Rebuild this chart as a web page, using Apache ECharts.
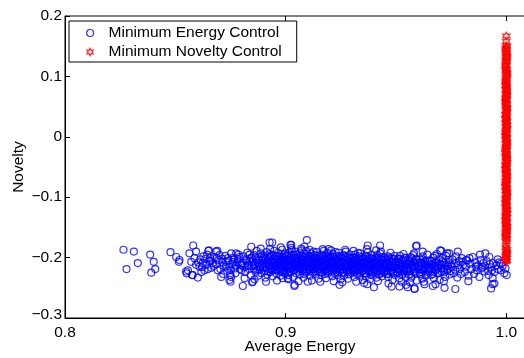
<!DOCTYPE html>
<html>
<head>
<meta charset="utf-8">
<script src="https://cdn.jsdelivr.net/npm/echarts@6/dist/echarts.min.js"></script>
<style>
html,body{margin:0;padding:0;background:#fff;overflow:hidden;}
#chart{width:524px;height:358px;}
</style>
</head>
<body>
<div id="chart"></div>
<script>
// ---- data ----
const seriesNames = ['Minimum Energy Control', 'Minimum Novelty Control'];
const xTickValues = [0.8, 0.9, 1.0];
const xTickLabels = ['0.8', '0.9', '1.0'];
const yTickValues = [-0.3, -0.2, -0.1, 0, 0.1, 0.2];
const yTickLabels = ['\u22120.3', '\u22120.2', '\u22120.1', '0', '0.1', '0.2'];

// [average energy, novelty]
const minEnergyPoints = [
[0.8265,-0.187],[0.8279,-0.219],[0.8312,-0.190],[0.8330,-0.209],[0.8386,-0.195],[0.8402,-0.207],[0.8409,-0.219],[0.8391,-0.225],
[0.8478,-0.191],[0.8504,-0.199],[0.8519,-0.204],[0.8516,-0.207],[0.8551,-0.226],[0.8557,-0.221],[0.8564,-0.193],[0.8581,-0.180],
[0.8579,-0.229],[0.8602,-0.233],[0.8572,-0.207],[0.8587,-0.201],[0.8594,-0.212],[0.8609,-0.215],[0.8624,-0.209],[0.8632,-0.221],
[0.8650,-0.189],[0.8658,-0.201],[0.8670,-0.209],[0.8685,-0.190],[0.8700,-0.196],[0.8692,-0.221],[0.8708,-0.232],[0.8730,-0.207],
[0.8745,-0.215],[0.8753,-0.193],[0.8745,-0.237],[0.8753,-0.232],[0.8776,-0.193],[0.8791,-0.199],[0.8806,-0.247],[0.8844,-0.182],
[0.8851,-0.240],[0.8927,-0.175],[0.8939,-0.175],[0.8911,-0.240],[0.9025,-0.179],[0.9040,-0.245],[0.8594,-0.190],[0.8652,-0.188],
[0.8690,-0.189],[0.8750,-0.240],[0.8848,-0.241],[0.8987,-0.234],[0.8549,-0.223],[0.8576,-0.229],
[0.9096,-0.171],[0.9085,-0.182],[0.9022,-0.179],[0.9195,-0.186],[0.9372,-0.180],[0.9428,-0.180],[0.9410,-0.188],[0.9040,-0.247],
[0.9010,-0.234],[0.9244,-0.245],[0.9400,-0.249],[0.9480,-0.248],[0.9516,-0.248],[0.9100,-0.240],[0.9370,-0.244],
[0.9594,-0.180],[0.9621,-0.190],[0.9700,-0.188],[0.9732,-0.193],[0.9780,-0.190],[0.9881,-0.195],[0.9905,-0.193],[0.9923,-0.199],
[0.9961,-0.203],[0.9584,-0.251],[0.9546,-0.245],[0.9629,-0.244],[0.9720,-0.250],[0.9769,-0.252],[0.9667,-0.247],[0.9679,-0.244],
[0.9828,-0.239],[0.9931,-0.251],[0.9938,-0.244],[0.9946,-0.243],[0.9920,-0.229],[0.9938,-0.234],[0.9935,-0.221],[0.9976,-0.210],
[0.9996,-0.218],[1.0002,-0.229],[0.9991,-0.226],[0.9863,-0.215],[0.9886,-0.218],[0.9901,-0.223],[0.9833,-0.201],[0.9818,-0.204],
[0.9802,-0.207],[0.9591,-0.181],[0.9705,-0.189],[0.9584,-0.252],[0.9553,-0.249],
[0.8613,-0.203],[0.8627,-0.198],[0.8641,-0.212],[0.8655,-0.206],[0.8663,-0.217],[0.8618,-0.224],[0.8677,-0.199],[0.8683,-0.211],
[0.8696,-0.204],[0.8644,-0.195],
[0.8712,-0.202],[0.8719,-0.214],[0.8726,-0.197],[0.8735,-0.222],[0.8741,-0.205],[0.8758,-0.211],[0.8763,-0.200],[0.8769,-0.218],
[0.8772,-0.226],[0.8781,-0.207],[0.8786,-0.195],[0.8795,-0.213],[0.8717,-0.227],[0.8749,-0.229],[0.8766,-0.203],[0.8799,-0.221],
[0.8803,-0.209],[0.8808,-0.198],[0.8812,-0.216],[0.8817,-0.224],[0.8821,-0.203],[0.8826,-0.192],[0.8829,-0.212],[0.8834,-0.219],
[0.8838,-0.206],[0.8842,-0.229],[0.8845,-0.200],[0.8847,-0.214],[0.8814,-0.234],[0.8836,-0.195],
[0.8852,-0.207],[0.8855,-0.218],[0.8858,-0.196],[0.8861,-0.211],[0.8864,-0.224],[0.8866,-0.203],[0.8869,-0.189],[0.8872,-0.215],
[0.8875,-0.230],[0.8877,-0.208],[0.8880,-0.199],[0.8883,-0.220],[0.8885,-0.212],[0.8888,-0.193],[0.8891,-0.226],[0.8894,-0.205],
[0.8896,-0.217],[0.8898,-0.201],[0.8859,-0.236],[0.8887,-0.185],
[0.8902,-0.210],[0.8904,-0.197],[0.8906,-0.222],[0.8909,-0.204],[0.8912,-0.215],[0.8914,-0.191],[0.8917,-0.228],[0.8919,-0.208],
[0.8922,-0.200],[0.8924,-0.219],[0.8927,-0.212],[0.8929,-0.186],[0.8931,-0.224],[0.8934,-0.206],[0.8936,-0.196],[0.8938,-0.217],
[0.8941,-0.231],[0.8943,-0.210],[0.8945,-0.202],[0.8947,-0.214],[0.8908,-0.233],[0.8926,-0.194],[0.8939,-0.221],[0.8948,-0.189],
[0.8951,-0.207],[0.8953,-0.219],[0.8955,-0.198],[0.8957,-0.226],[0.8959,-0.211],[0.8962,-0.203],[0.8964,-0.215],[0.8966,-0.192],
[0.8968,-0.222],[0.8971,-0.209],[0.8973,-0.199],[0.8975,-0.218],[0.8977,-0.230],[0.8979,-0.205],[0.8982,-0.213],[0.8984,-0.187],
[0.8986,-0.224],[0.8988,-0.201],[0.8991,-0.216],[0.8993,-0.208],[0.8995,-0.195],[0.8997,-0.227],[0.8999,-0.212],[0.8961,-0.238],
[0.8978,-0.183],[0.8994,-0.204],
[0.9002,-0.210],[0.9004,-0.221],[0.9006,-0.197],[0.9008,-0.214],[0.9010,-0.205],[0.9013,-0.229],[0.9015,-0.192],[0.9017,-0.218],
[0.9019,-0.208],[0.9021,-0.200],[0.9023,-0.224],[0.9026,-0.212],[0.9028,-0.187],[0.9030,-0.216],[0.9032,-0.203],[0.9034,-0.232],
[0.9036,-0.209],[0.9038,-0.196],[0.9041,-0.220],[0.9043,-0.213],[0.9045,-0.201],[0.9047,-0.226],[0.9049,-0.207],[0.9012,-0.236],
[0.9025,-0.184],[0.9039,-0.215],[0.9044,-0.190],[0.9007,-0.203],
[0.9051,-0.211],[0.9053,-0.199],[0.9055,-0.223],[0.9057,-0.206],[0.9059,-0.217],[0.9062,-0.193],[0.9064,-0.228],[0.9066,-0.209],
[0.9068,-0.202],[0.9070,-0.215],[0.9073,-0.188],[0.9075,-0.221],[0.9077,-0.210],[0.9079,-0.197],[0.9081,-0.233],[0.9083,-0.204],
[0.9086,-0.219],[0.9088,-0.212],[0.9090,-0.194],[0.9092,-0.225],[0.9094,-0.207],[0.9097,-0.216],[0.9099,-0.200],[0.9058,-0.239],
[0.9071,-0.185],[0.9084,-0.227],[0.9093,-0.189],[0.9061,-0.213],
[0.9101,-0.209],[0.9103,-0.220],[0.9105,-0.198],[0.9107,-0.214],[0.9110,-0.205],[0.9112,-0.230],[0.9114,-0.193],[0.9116,-0.217],
[0.9118,-0.211],[0.9121,-0.201],[0.9123,-0.225],[0.9125,-0.208],[0.9127,-0.190],[0.9129,-0.219],[0.9132,-0.213],[0.9134,-0.196],
[0.9136,-0.228],[0.9138,-0.206],[0.9140,-0.216],[0.9143,-0.202],[0.9145,-0.222],[0.9147,-0.210],[0.9149,-0.235],[0.9108,-0.187],
[0.9119,-0.238],[0.9131,-0.204],[0.9142,-0.191],[0.9126,-0.215],
[0.9151,-0.212],[0.9153,-0.200],[0.9155,-0.224],[0.9158,-0.207],[0.9160,-0.218],[0.9162,-0.195],[0.9164,-0.229],[0.9166,-0.210],
[0.9169,-0.203],[0.9171,-0.215],[0.9173,-0.189],[0.9175,-0.221],[0.9177,-0.211],[0.9180,-0.198],[0.9182,-0.234],[0.9184,-0.205],
[0.9186,-0.220],[0.9188,-0.213],[0.9191,-0.194],[0.9193,-0.226],[0.9195,-0.208],[0.9197,-0.217],[0.9199,-0.201],[0.9157,-0.240],
[0.9168,-0.186],[0.9179,-0.227],[0.9190,-0.192],[0.9163,-0.214],
[0.9201,-0.210],[0.9203,-0.221],[0.9205,-0.199],[0.9208,-0.215],[0.9210,-0.206],[0.9212,-0.231],[0.9214,-0.194],[0.9216,-0.218],
[0.9219,-0.212],[0.9221,-0.202],[0.9223,-0.226],[0.9225,-0.209],[0.9227,-0.191],[0.9230,-0.220],[0.9232,-0.214],[0.9234,-0.197],
[0.9236,-0.229],[0.9238,-0.207],[0.9241,-0.217],[0.9243,-0.203],[0.9245,-0.223],[0.9247,-0.211],[0.9249,-0.236],[0.9206,-0.188],
[0.9218,-0.239],[0.9229,-0.205],[0.9240,-0.192],[0.9226,-0.216],
[0.9251,-0.213],[0.9253,-0.201],[0.9255,-0.225],[0.9258,-0.208],[0.9260,-0.219],[0.9262,-0.196],[0.9264,-0.230],[0.9267,-0.211],
[0.9269,-0.204],[0.9271,-0.216],[0.9273,-0.190],[0.9275,-0.222],[0.9278,-0.212],[0.9280,-0.199],[0.9282,-0.235],[0.9284,-0.206],
[0.9286,-0.221],[0.9289,-0.214],[0.9291,-0.195],[0.9293,-0.227],[0.9295,-0.209],[0.9297,-0.218],[0.9299,-0.202],[0.9257,-0.241],
[0.9270,-0.187],[0.9285,-0.228],
[0.9301,-0.211],[0.9303,-0.222],[0.9306,-0.200],[0.9308,-0.216],[0.9310,-0.207],[0.9312,-0.232],[0.9314,-0.195],[0.9317,-0.219],
[0.9319,-0.213],[0.9321,-0.203],[0.9323,-0.227],[0.9325,-0.210],[0.9328,-0.192],[0.9330,-0.221],[0.9332,-0.215],[0.9334,-0.198],
[0.9336,-0.230],[0.9339,-0.208],[0.9341,-0.218],[0.9343,-0.204],[0.9345,-0.224],[0.9347,-0.212],[0.9349,-0.237],[0.9307,-0.189],
[0.9320,-0.240],[0.9338,-0.193],
[0.9351,-0.214],[0.9353,-0.202],[0.9355,-0.226],[0.9358,-0.209],[0.9360,-0.220],[0.9362,-0.197],[0.9364,-0.231],[0.9367,-0.212],
[0.9369,-0.205],[0.9371,-0.217],[0.9373,-0.191],[0.9375,-0.223],[0.9378,-0.213],[0.9380,-0.200],[0.9382,-0.236],[0.9384,-0.207],
[0.9386,-0.222],[0.9389,-0.215],[0.9391,-0.196],[0.9393,-0.228],[0.9395,-0.210],[0.9397,-0.219],[0.9399,-0.203],[0.9356,-0.242],
[0.9368,-0.186],[0.9387,-0.229],
[0.9401,-0.212],[0.9403,-0.223],[0.9406,-0.201],[0.9408,-0.217],[0.9410,-0.208],[0.9412,-0.233],[0.9415,-0.196],[0.9417,-0.220],
[0.9419,-0.214],[0.9421,-0.204],[0.9424,-0.228],[0.9426,-0.211],[0.9428,-0.193],[0.9430,-0.222],[0.9433,-0.216],[0.9435,-0.199],
[0.9437,-0.231],[0.9439,-0.209],[0.9442,-0.219],[0.9444,-0.205],[0.9446,-0.225],[0.9448,-0.213],[0.9418,-0.239],[0.9432,-0.190],
[0.9451,-0.215],[0.9453,-0.203],[0.9456,-0.227],[0.9458,-0.210],[0.9461,-0.221],[0.9463,-0.198],[0.9465,-0.232],[0.9468,-0.213],
[0.9470,-0.206],[0.9472,-0.218],[0.9475,-0.192],[0.9477,-0.224],[0.9479,-0.214],[0.9482,-0.201],[0.9484,-0.237],[0.9486,-0.208],
[0.9489,-0.223],[0.9491,-0.216],[0.9494,-0.197],[0.9496,-0.229],[0.9498,-0.211],[0.9466,-0.243],
[0.9502,-0.213],[0.9505,-0.224],[0.9507,-0.202],[0.9510,-0.218],[0.9513,-0.209],[0.9515,-0.234],[0.9518,-0.197],[0.9520,-0.221],
[0.9523,-0.215],[0.9526,-0.205],[0.9528,-0.229],[0.9531,-0.212],[0.9534,-0.194],[0.9536,-0.223],[0.9539,-0.217],[0.9541,-0.200],
[0.9544,-0.232],[0.9547,-0.210],[0.9549,-0.220],[0.9525,-0.240],
[0.9552,-0.216],[0.9555,-0.204],[0.9558,-0.228],[0.9561,-0.211],[0.9564,-0.222],[0.9567,-0.199],[0.9570,-0.233],[0.9573,-0.214],
[0.9576,-0.207],[0.9579,-0.219],[0.9582,-0.193],[0.9585,-0.225],[0.9588,-0.215],[0.9591,-0.202],[0.9594,-0.238],[0.9597,-0.209],
[0.9563,-0.241],[0.9578,-0.196],
[0.9603,-0.214],[0.9606,-0.225],[0.9609,-0.203],[0.9612,-0.219],[0.9616,-0.210],[0.9619,-0.235],[0.9622,-0.198],[0.9625,-0.222],
[0.9629,-0.216],[0.9632,-0.206],[0.9635,-0.230],[0.9638,-0.213],[0.9642,-0.195],[0.9645,-0.224],[0.9648,-0.218],[0.9626,-0.240],
[0.9652,-0.217],[0.9655,-0.205],[0.9659,-0.229],[0.9662,-0.212],[0.9665,-0.223],[0.9669,-0.200],[0.9672,-0.234],[0.9675,-0.215],
[0.9679,-0.208],[0.9682,-0.220],[0.9685,-0.194],[0.9689,-0.226],[0.9692,-0.214],[0.9695,-0.203],[0.9698,-0.237],[0.9676,-0.197],
[0.9703,-0.212],[0.9707,-0.223],[0.9711,-0.201],[0.9715,-0.218],[0.9719,-0.209],[0.9723,-0.232],[0.9727,-0.197],[0.9731,-0.221],
[0.9735,-0.214],[0.9739,-0.204],[0.9743,-0.228],[0.9747,-0.211],[0.9717,-0.239],[0.9741,-0.193],
[0.9752,-0.215],[0.9756,-0.203],[0.9761,-0.226],[0.9765,-0.210],[0.9769,-0.220],[0.9773,-0.198],[0.9778,-0.233],[0.9782,-0.213],
[0.9786,-0.206],[0.9790,-0.219],[0.9794,-0.227],[0.9798,-0.201],
[0.9805,-0.212],[0.9811,-0.224],[0.9817,-0.215],[0.9823,-0.205],[0.9829,-0.230],[0.9836,-0.210],[0.9842,-0.219],[0.9848,-0.199],
[0.9854,-0.227],[0.9860,-0.208],[0.9866,-0.221],[0.9872,-0.213],[0.9878,-0.232],[0.9884,-0.204],[0.9890,-0.216],[0.9896,-0.209],
[0.9904,-0.214],[0.9911,-0.206],[0.9918,-0.222],[0.9925,-0.211],[0.9932,-0.216],[0.9940,-0.209],[0.9947,-0.224],[0.9954,-0.213],
[0.9961,-0.219],[0.9968,-0.208],[0.9975,-0.221],[0.9983,-0.214],
[0.8823,-0.205],[0.8831,-0.214],[0.8843,-0.201],[0.8856,-0.213],[0.8863,-0.199],[0.8871,-0.221],[0.8879,-0.204],[0.8886,-0.216],
[0.8893,-0.198],[0.8899,-0.209],[0.8903,-0.216],[0.8911,-0.202],[0.8916,-0.211],[0.8921,-0.223],[0.8928,-0.199],[0.8933,-0.214],
[0.8937,-0.205],[0.8942,-0.219],[0.8946,-0.196],[0.8949,-0.208],[0.8952,-0.213],[0.8956,-0.204],[0.8960,-0.220],[0.8963,-0.197],
[0.8967,-0.210],[0.8970,-0.216],[0.8974,-0.203],[0.8978,-0.222],[0.8981,-0.207],[0.8985,-0.199],[0.8989,-0.214],[0.8992,-0.221],
[0.8996,-0.206],[0.8998,-0.193],[0.9001,-0.217],[0.9005,-0.205],[0.9009,-0.199],[0.9012,-0.212],[0.9016,-0.224],[0.9020,-0.203],
[0.9024,-0.216],[0.9027,-0.196],[0.9031,-0.209],[0.9035,-0.221],[0.9039,-0.201],[0.9042,-0.211],[0.9046,-0.218],[0.9048,-0.195],
[0.9052,-0.205],[0.9056,-0.214],[0.9060,-0.200],[0.9063,-0.220],[0.9067,-0.197],[0.9071,-0.210],[0.9074,-0.217],[0.9078,-0.203],
[0.9082,-0.213],[0.9085,-0.223],[0.9089,-0.199],[0.9092,-0.208],[0.9096,-0.220],[0.9098,-0.204],[0.9102,-0.214],[0.9106,-0.202],
[0.9109,-0.222],[0.9113,-0.208],[0.9117,-0.198],[0.9120,-0.215],[0.9124,-0.205],[0.9128,-0.223],[0.9131,-0.211],[0.9135,-0.200],
[0.9139,-0.217],[0.9141,-0.209],[0.9144,-0.197],[0.9148,-0.219],[0.9152,-0.206],[0.9156,-0.215],[0.9159,-0.201],[0.9163,-0.224],
[0.9167,-0.208],[0.9170,-0.197],[0.9174,-0.213],[0.9178,-0.219],[0.9181,-0.204],[0.9185,-0.211],[0.9189,-0.222],[0.9192,-0.200],
[0.9196,-0.213],[0.9198,-0.207],[0.9202,-0.216],[0.9206,-0.204],[0.9209,-0.223],[0.9213,-0.209],[0.9217,-0.199],[0.9220,-0.216],
[0.9224,-0.206],[0.9228,-0.224],[0.9231,-0.212],[0.9235,-0.201],[0.9239,-0.218],[0.9242,-0.210],[0.9246,-0.198],[0.9248,-0.220],
[0.9252,-0.207],[0.9256,-0.216],[0.9259,-0.202],[0.9263,-0.225],[0.9266,-0.209],[0.9270,-0.198],[0.9274,-0.214],[0.9277,-0.220],
[0.9281,-0.205],[0.9285,-0.212],[0.9288,-0.223],[0.9292,-0.201],[0.9296,-0.214],[0.9298,-0.208],[0.9302,-0.217],[0.9305,-0.205],
[0.9309,-0.224],[0.9313,-0.210],[0.9316,-0.200],[0.9320,-0.217],[0.9324,-0.207],[0.9327,-0.225],[0.9331,-0.213],[0.9335,-0.202],
[0.9338,-0.219],[0.9342,-0.211],[0.9346,-0.199],[0.9348,-0.221],[0.9352,-0.208],[0.9356,-0.217],[0.9359,-0.203],[0.9363,-0.226],
[0.9366,-0.210],[0.9370,-0.199],[0.9374,-0.215],[0.9377,-0.221],[0.9381,-0.206],[0.9385,-0.213],[0.9388,-0.224],[0.9392,-0.202],
[0.9396,-0.215],[0.9398,-0.209],[0.9402,-0.218],[0.9405,-0.206],[0.9409,-0.225],[0.9413,-0.211],[0.9416,-0.201],[0.9420,-0.218],
[0.9423,-0.208],[0.9427,-0.226],[0.9431,-0.214],[0.9434,-0.203],[0.9438,-0.220],[0.9441,-0.212],[0.9445,-0.200],[0.9449,-0.222],
[0.9452,-0.209],[0.9455,-0.218],[0.9459,-0.204],[0.9462,-0.227],[0.9466,-0.211],[0.9469,-0.200],[0.9473,-0.216],[0.9476,-0.222],
[0.9480,-0.207],[0.9483,-0.214],[0.9487,-0.225],[0.9490,-0.203],[0.9494,-0.216],[0.9497,-0.210],[0.9501,-0.219],[0.9504,-0.207],
[0.9508,-0.226],[0.9512,-0.212],[0.9516,-0.202],[0.9519,-0.219],[0.9522,-0.209],[0.9527,-0.227],[0.9530,-0.215],[0.9533,-0.204],
[0.9537,-0.221],[0.9540,-0.213],[0.9545,-0.201],[0.9548,-0.223],[0.9553,-0.210],[0.9557,-0.219],[0.9560,-0.205],[0.9565,-0.228],
[0.9568,-0.212],[0.9572,-0.201],[0.9575,-0.217],[0.9580,-0.223],[0.9583,-0.208],[0.9587,-0.215],[0.9590,-0.226],[0.9595,-0.204],
[0.9598,-0.217],[0.9604,-0.220],[0.9608,-0.208],[0.9613,-0.227],[0.9617,-0.213],[0.9621,-0.203],[0.9627,-0.220],[0.9631,-0.210],
[0.9636,-0.228],[0.9640,-0.216],[0.9644,-0.205],[0.9649,-0.222],[0.9654,-0.211],[0.9658,-0.219],[0.9663,-0.206],[0.9668,-0.227],
[0.9673,-0.213],[0.9678,-0.221],[0.9683,-0.209],[0.9688,-0.217],[0.9694,-0.225],[0.9699,-0.210],[0.9705,-0.218],[0.9712,-0.206],
[0.9718,-0.224],[0.9725,-0.213],[0.9733,-0.219],[0.9740,-0.208],[0.9748,-0.222],
[0.8605,-0.208],[0.8621,-0.216],[0.8637,-0.202],[0.8648,-0.219],[0.8661,-0.205],[0.8673,-0.214],[0.8688,-0.201],[0.8704,-0.219],
[0.8715,-0.208],[0.8729,-0.215],[0.8738,-0.201],[0.8752,-0.220],[0.8761,-0.207],[0.8774,-0.213],[0.8784,-0.202],[0.8793,-0.219],
[0.8801,-0.212]
];

// [average energy, novelty]
const minNoveltyPoints = [
[1.0000,0.167],[1.0000,0.158],[1.0000,0.151],[1.0003,0.149],[1.0000,0.145],[0.9997,0.142],[1.0000,0.138],[1.0000,0.133],
[1.0003,0.131],[1.0000,0.126],[1.0000,0.122],[0.9997,0.119],[1.0000,0.114],[1.0000,0.111],[1.0000,0.107],[1.0003,0.103],
[1.0000,0.098],[1.0000,0.096],[0.9997,0.091],[1.0000,0.087],[1.0000,0.084],[1.0000,0.079],[1.0003,0.076],[1.0000,0.071],
[1.0000,0.068],[0.9997,0.063],[1.0000,0.060],[1.0000,0.055],[1.0000,0.052],[1.0003,0.048],[1.0000,0.044],[1.0000,0.039],
[0.9997,0.036],[1.0000,0.031],[1.0000,0.028],[1.0000,0.024],[1.0003,0.019],[1.0000,0.016],[1.0000,0.012],[0.9997,0.007],
[1.0000,0.004],[1.0000,0.000],[1.0000,-0.004],[1.0003,-0.009],[1.0000,-0.012],[1.0000,-0.016],[0.9997,-0.021],[1.0000,-0.024],
[1.0000,-0.028],[1.0000,-0.033],[1.0003,-0.036],[1.0000,-0.040],[1.0000,-0.045],[0.9997,-0.048],[1.0000,-0.053],[1.0000,-0.056],
[1.0000,-0.060],[1.0003,-0.065],[1.0000,-0.068],[1.0000,-0.072],[0.9997,-0.077],[1.0000,-0.080],[1.0000,-0.084],[1.0000,-0.089],
[1.0003,-0.092],[1.0000,-0.096],[1.0000,-0.101],[0.9997,-0.104],[1.0000,-0.108],[1.0000,-0.113],[1.0000,-0.116],[1.0003,-0.120],
[1.0000,-0.125],[1.0000,-0.128],[0.9997,-0.132],[1.0000,-0.137],[1.0000,-0.140],[1.0000,-0.144],[1.0003,-0.149],[1.0000,-0.152],
[1.0000,-0.156],[0.9997,-0.161],[1.0000,-0.164],[1.0000,-0.168],[1.0000,-0.173],[1.0000,-0.180],[1.0003,-0.186],[1.0000,-0.189],
[1.0000,-0.193],[0.9997,-0.197],[1.0000,-0.200],[1.0000,-0.204],[1.0000,-0.207],
[0.9998,0.147],[1.0002,0.140],[1.0003,0.135],[0.9998,0.129],[1.0002,0.124],[0.9997,0.117],[1.0002,0.112],[0.9998,0.109],
[1.0002,0.105],[1.0003,0.100],[0.9998,0.094],[1.0002,0.089],[0.9997,0.085],[1.0002,0.081],[0.9998,0.077],[1.0002,0.073],
[1.0003,0.069],[0.9998,0.065],[1.0002,0.062],[0.9997,0.058],[1.0002,0.054],[0.9998,0.050],[1.0002,0.046],[1.0003,0.041],
[0.9998,0.037],[1.0002,0.033],[0.9997,0.029],[1.0002,0.026],[0.9998,0.022],[1.0002,0.018],[1.0003,0.014],[0.9998,0.010],
[1.0002,0.005],[0.9997,0.002],[1.0002,-0.002],[0.9998,-0.006],[1.0002,-0.010],[1.0003,-0.014],[0.9998,-0.018],[1.0002,-0.022],
[0.9997,-0.026],[1.0002,-0.030],[0.9998,-0.035],[1.0002,-0.038],[1.0003,-0.042],[0.9998,-0.046],[1.0002,-0.050],[0.9997,-0.054],
[1.0002,-0.058],[0.9998,-0.062],[1.0002,-0.066],[1.0003,-0.070],[0.9998,-0.074],[1.0002,-0.078],[0.9997,-0.082],[1.0002,-0.086],
[0.9998,-0.090],[1.0002,-0.094],[1.0003,-0.098],[0.9998,-0.102],[1.0002,-0.106],[0.9997,-0.110],[1.0002,-0.115],[0.9998,-0.118],
[1.0002,-0.122],[1.0003,-0.127],[0.9998,-0.130],[1.0002,-0.134],[0.9997,-0.139],[1.0002,-0.142],[0.9998,-0.146],[1.0002,-0.150],
[1.0003,-0.154],[0.9998,-0.158],[1.0002,-0.162],[0.9997,-0.166],[1.0002,-0.170],[0.9998,-0.183],[1.0002,-0.191],[1.0003,-0.195],
[0.9998,-0.202],[1.0002,-0.205]
];

// ---- chart ----
const FONT = '"Liberation Sans", Arial, Helvetica, sans-serif';
const FS = 15.5;
const hexagram = 'path://M0,-100L28.87,-50L86.6,-50L57.7,0L86.6,50L28.87,50L0,100L-28.87,50L-86.6,50L-57.7,0L-86.6,-50L-28.87,-50Z';
const blueStyle = { color: 'rgba(0,0,0,0)', borderColor: '#0000ff', borderWidth: 1.2 };
const redStyle = { color: 'rgba(0,0,0,0)', borderColor: '#ff0000', borderWidth: 1.4 };

function labelFor(values, labels, v) {
  const i = values.findIndex(t => Math.abs(t - v) < 1e-6);
  return i >= 0 ? labels[i] : '';
}

const chart = echarts.init(document.getElementById('chart'), null, { renderer: 'canvas' });
const xCommon = {
  type: 'value', min: 0.8, max: 1.013, interval: 0.1,
  splitLine: { show: false },
  axisTick: { show: true, inside: true, length: 5, lineStyle: { color: '#000', width: 1 }, customValues: xTickValues }
};
chart.setOption({
  animation: false,
  backgroundColor: '#fff',
  grid: {
    left: 65, top: 16, width: 470, height: 302,
    containLabel: false, outerBoundsMode: 'none',
    show: true, borderColor: '#000', borderWidth: 1, backgroundColor: 'rgba(0,0,0,0)'
  },
  legend: {
    orient: 'vertical', left: 69, top: 21,
    padding: [4, 15, 2, 17],
    itemGap: 3, itemWidth: 7, itemHeight: 7,
    borderColor: '#000', borderWidth: 1, backgroundColor: '#fff',
    textStyle: {
      fontFamily: FONT, fontSize: FS, color: '#000', lineHeight: 16,
      rich: { t: { fontFamily: FONT, fontSize: FS, color: '#000', padding: [0, 0, 0, 10] } }
    },
    formatter: name => '{t|' + name + '}',
    selectedMode: false,
    data: [
      { name: seriesNames[0], icon: 'circle', itemStyle: blueStyle },
      { name: seriesNames[1], icon: hexagram, itemStyle: redStyle }
    ]
  },
  xAxis: [
    Object.assign({}, xCommon, {
      position: 'bottom',
      axisLine: { show: true, onZero: false, lineStyle: { color: '#000', width: 1 } },
      name: 'Average Energy', nameLocation: 'middle', nameGap: 21, nameMoveOverlap: false,
      nameTextStyle: { fontFamily: FONT, fontSize: FS, color: '#000', verticalAlign: 'top' },
      axisLabel: {
        show: true, margin: 7, fontFamily: FONT, fontSize: FS, color: '#000',
        customValues: xTickValues,
        formatter: v => labelFor(xTickValues, xTickLabels, v)
      }
    }),
    Object.assign({}, xCommon, {
      position: 'top',
      axisLine: { show: false, onZero: false },
      axisLabel: { show: false }
    })
  ],
  yAxis: {
    type: 'value', min: -0.3, max: 0.2, interval: 0.1,
    splitLine: { show: false },
    axisLine: { show: true, onZero: false, lineStyle: { color: '#000', width: 1 } },
    axisTick: { show: true, inside: true, length: 5, lineStyle: { color: '#000', width: 1 } },
    name: 'Novelty', nameLocation: 'middle', nameGap: 38, nameMoveOverlap: false,
    nameTextStyle: { fontFamily: FONT, fontSize: FS, color: '#000' },
    axisLabel: {
      margin: 3, fontFamily: FONT, fontSize: FS, color: '#000',
      formatter: v => {
        const s = labelFor(yTickValues, yTickLabels, v);
        return Math.abs(v + 0.3) < 1e-6 ? '{low|' + s + '}' : s;
      },
      rich: { low: { fontFamily: FONT, fontSize: FS, color: '#000', padding: [0, 0, 6, 0] } }
    }
  },
  series: [
    {
      type: 'scatter', name: seriesNames[0], data: minEnergyPoints,
      xAxisIndex: 0, symbol: 'circle', symbolSize: 7,
      itemStyle: blueStyle, silent: true, emphasis: { disabled: true }
    },
    {
      type: 'scatter', name: seriesNames[1], data: minNoveltyPoints,
      xAxisIndex: 0, symbol: hexagram, symbolSize: 7,
      itemStyle: redStyle, silent: true, emphasis: { disabled: true }
    }
  ]
});
</script>
</body>
</html>
